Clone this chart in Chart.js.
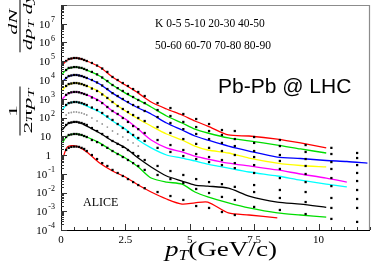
<!DOCTYPE html>
<html>
<head>
<meta charset="utf-8">
<script src="https://cdn.jsdelivr.net/npm/chart.js@4.4.1/dist/chart.umd.min.js"></script>
<style>
html, body { margin: 0; padding: 0; background: #fff; }
#chart { display: block; }
</style>
</head>
<body>
<canvas id="chart" width="374" height="271"></canvas>
<script>
// model curves, pT in GeV/c
let curvePt = [0.05, 0.25, 0.6, 1.0, 1.5, 2.0, 2.5, 3.0, 3.5, 4.1, 4.7, 5.2, 5.7, 6.5, 7.3, 8.4, 9.3, 10.3, 11.1, 11.9];

let red1    = [6.3e4, 1.17e5, 1.49e5, 1.03e5, 4.9e4, 1.45e4, 5.4e3, 2.0e3, 670, 284, 136, 65, 35, 11.7, 10.3, 7.1, 4.4, 2.4, null, null];
let green1  = [2.1e4, 3.9e4, 4.9e4, 3.4e4, 1.63e4, 5.4e3, 2.0e3, 860, 363, 120, 51, 24, 14.9, 8.1, 5.6, 3.4, 2.1, 1.28, null, null];
let blue    = [7.8e3, 1.45e4, 1.85e4, 1.28e4, 6.1e3, 2.0e3, 760, 321, 154, 51, 21.5, 10.3, 6.3, 3.0, 1.63, 0.78, 0.65, 0.51, 0.45, 0.37];
let yellow  = [2.9e3, 5.4e3, 6.9e3, 4.8e3, 2.3e3, 670, 222, 83, 35, 13.2, 6.3, 3.0, 1.85, 1.28, 0.69, 0.37, 0.275, 0.23, null, null];
let magenta = [970, 1.8e3, 2.3e3, 1.6e3, 760, 222, 83, 24, 6.3, 2.4, 1.45, 0.88, 0.61, 0.37, 0.26, 0.16, 0.097, 0.059, 0.036, null];
let cyan    = [251, 525, 670, 410, 196, 65, 24, 6.3, 2.4, 1.0, 0.69, 0.48, 0.33, 0.20, 0.124, 0.076, 0.046, 0.028, 0.020, null];
let black   = [21.5, 45, 58, 35, 14.9, 5.6, 2.4, 0.69, 0.23, 0.076, 0.041, 0.025, 0.022, 0.017, 0.0065, 0.0031, 0.0024, 0.0016, null, null];
let green2  = [4.4, 10.3, 13.2, 9.1, 4.4, 1.63, 0.69, 0.23, 0.059, 0.036, 0.028, 0.0106, 0.0058, 0.0028, 0.0015, 0.00081, 0.00063, 0.00049, null, null];
let red2    = [0.54, 2.7, 3.0, 1.45, 0.37, 0.14, 0.067, 0.025, 0.0106, 0.0045, 0.0024, 0.0028, 0.0031, 0.00081, 0.00063, 0.00044, null, null, null, null];

// ALICE data points
let dotPt = [0.2, 0.3, 0.4, 0.5, 0.6, 0.7, 0.8, 0.9, 1.0, 1.2, 1.4, 1.6, 1.8, 2.0, 2.2, 2.4, 2.6, 2.8, 3.0, 3.25, 3.75, 4.25, 4.75, 5.25, 5.75, 6.25, 6.75, 7.5, 8.5, 9.5, 10.5, 11.5];

let dRed1    = [1.03e5, 1.32e5, 1.40e5, 1.49e5, 1.49e5, 1.40e5, 1.32e5, 1.17e5, 1.03e5, 8.1e4, 5.9e4, 4.1e4, 2.7e4, 1.45e4, 1.0e4, 6.9e3, 4.8e3, 3.3e3, 2.3e3, 1.4e3, 590, 320, 154, 83, 45, 21.5, 19, 9.1, 6.3, 3.4, 2.4, 1.28];
let dGreen1  = [3.4e4, 4.4e4, 4.6e4, 4.9e4, 4.9e4, 4.6e4, 4.4e4, 3.9e4, 3.4e4, 2.7e4, 2.0e4, 1.36e4, 8.8e3, 5.4e3, 3.7e3, 2.6e3, 1.8e3, 1.24e3, 860, 590, 250, 120, 58, 31, 19, 11.7, 7.1, 4.4, 3.0, 1.45, 1.13, 0.69];
let dBlue    = [1.28e4, 1.63e4, 1.74e4, 1.85e4, 1.85e4, 1.74e4, 1.63e4, 1.45e4, 1.28e4, 1.0e4, 7.4e3, 5.1e3, 3.3e3, 2.0e3, 1.4e3, 970, 670, 464, 363, 222, 106, 51, 24, 13.2, 7.1, 4.4, 3.0, 1.63, 1.0, 0.61, 0.42, 0.29];
let dYellow  = [4.8e3, 6.1e3, 6.5e3, 6.9e3, 6.9e3, 6.5e3, 6.1e3, 5.4e3, 4.8e3, 3.5e3, 2.6e3, 1.7e3, 1.1e3, 670, 410, 284, 196, 136, 94, 65, 31, 14.9, 7.1, 3.9, 2.4, 1.63, 1.0, 0.78, 0.48, 0.26, 0.18, 0.11];
let dMagenta = [1.6e3, 2.0e3, 2.2e3, 2.3e3, 2.3e3, 2.2e3, 2.0e3, 1.8e3, 1.6e3, 1.17e3, 860, 590, 363, 222, 154, 94, 58, 35, 24, 14.9, 6.3, 3.4, 1.85, 1.13, 0.78, 0.54, 0.37, 0.29, 0.18, 0.097, 0.059, 0.041];
let dCyan    = [464, 590, 630, 670, 670, 630, 590, 525, 464, 340, 251, 174, 113, 74, 45, 27.5, 16.9, 11.7, 8.1, 5.6, 2.4, 1.45, 0.88, 0.61, 0.42, 0.29, 0.20, 0.11, 0.059, 0.036, 0.022, 0.0136];
let dBlack   = [40, 51, 54, 58, 58, 54, 51, 45, 40, 27.5, 19, 13.2, 9.1, 5.6, 3.9, 2.7, 1.85, 1.28, 0.88, 0.54, 0.26, 0.14, 0.086, 0.052, 0.036, 0.028, 0.020, 0.025, 0.0136, 0.0106, 0.0051, 0.0045];
let dGreen2  = [9.1, 11.7, 12.4, 13.2, 13.2, 12.4, 11.7, 10.3, 9.1, 6.3, 4.9, 3.4, 2.4, 1.63, 1.13, 0.78, 0.54, 0.37, 0.26, 0.16, 0.086, 0.052, 0.032, 0.0154, 0.0094, 0.0058, 0.0040, 0.0106, 0.0051, 0.0031, 0.0015, 0.0015];
let dRed2    = [1.85, 2.4, 2.7, 2.8, 2.8, 2.7, 2.4, 2.1, 1.63, 1.0, 0.61, 0.37, 0.26, 0.16, 0.11, 0.076, 0.052, 0.036, 0.025, 0.017, 0.0106, 0.0065, 0.0040, 0.0019, 0.0015, 0.00091, 0.00063, 0.0017, 0.00117, 0.00071, 0.00039, 0.00027];
let dGray    = [136, 174, 185, 196, 196, 185, 174, 154, 136, 94, 65, 45, 31, 19, 13.2, 9.1, 6.3, 4.4, 3.0];

let yDecades = [-4, -3, -2, -1, 0, 1, 2, 3, 4, 5, 6, 7];
let xTicks = [0, 2.5, 5, 7.5, 10];
let xTickLabels = ["0", "2.5", "5", "7.5", "10"];
let centRow1 = "K 0-5 5-10 20-30 40-50";
let centRow2 = "50-60 60-70 70-80 80-90";
let systemLabel = "Pb-Pb @ LHC";
let expLabel = "ALICE";

let curves = [red1, green1, blue, yellow, magenta, cyan, black, green2, red2];
let curveColors = ["#ff0000", "#00dd00", "#0000ff", "#ffff00", "#ff00ff", "#00ffff", "#000000", "#00dd00", "#ff0000"];
let dotSets = [dRed1, dGreen1, dBlue, dYellow, dMagenta, dCyan, dBlack, dGreen2, dRed2];

function toPoints(xs, ys) {
    let pts = [];
    for (let i = 0; i < ys.length; i++) {
        if (ys[i] !== null) pts.push({ x: xs[i], y: ys[i] });
    }
    return pts;
}

let datasets = [];
// dots first so they sit on top
dotSets.forEach(function (d) {
    datasets.push({
        data: toPoints(dotPt, d),
        showLine: false,
        pointStyle: "rect",
        pointRadius: 1.6,
        pointBackgroundColor: "#000",
        pointBorderWidth: 0
    });
});
datasets.push({
    data: toPoints(dotPt, dGray),
    showLine: false,
    pointStyle: "circle",
    pointRadius: 0.9,
    pointBackgroundColor: "#999",
    pointBorderWidth: 0
});
curves.forEach(function (c, i) {
    datasets.push({
        data: toPoints(curvePt, c),
        borderColor: curveColors[i],
        borderWidth: 1.3,
        pointRadius: 0,
        tension: 0.25,
        fill: false
    });
});

// text runs: [text, font, dy]
function runWidth(ctx, parts) {
    let w = 0;
    parts.forEach(function (p) { ctx.font = p[1]; w += ctx.measureText(p[0]).width; });
    return w;
}
function drawRun(ctx, parts, x, y) {
    let cx = x;
    parts.forEach(function (p) {
        ctx.font = p[1];
        ctx.fillText(p[0], cx, y + p[2]);
        cx += ctx.measureText(p[0]).width;
    });
}

const SERIF = '"Liberation Serif", "DejaVu Serif", serif';

let decor = {
    id: "decor",
    afterDatasetsDraw(chart) {
        let ctx = chart.ctx;
        let a = chart.chartArea;
        let xs = chart.scales.x, ys = chart.scales.y;
        ctx.save();

        // frame
        ctx.strokeStyle = "#8c8c8c";
        ctx.lineWidth = 1.2;
        ctx.beginPath();
        ctx.moveTo(a.left, a.top + 0.5);
        ctx.lineTo(a.right - 0.5, a.top + 0.5);
        ctx.lineTo(a.right - 0.5, a.bottom);
        ctx.stroke();
        ctx.strokeStyle = "#000";
        ctx.lineWidth = 1;
        ctx.beginPath();
        ctx.moveTo(a.left + 0.5, a.top);
        ctx.lineTo(a.left + 0.5, a.bottom + 0.5);
        ctx.lineTo(a.right, a.bottom + 0.5);
        ctx.stroke();

        // y ticks, inside
        ctx.strokeStyle = "#333";
        ctx.beginPath();
        for (let e = -4; e <= 8; e++) {
            let py = Math.round(ys.getPixelForValue(Math.pow(10, e))) + 0.5;
            ctx.moveTo(a.left, py); ctx.lineTo(a.left + 6, py);
            if (e < 8) {
                for (let k = 2; k <= 9; k++) {
                    let my = Math.round(ys.getPixelForValue(k * Math.pow(10, e))) + 0.5;
                    ctx.moveTo(a.left, my); ctx.lineTo(a.left + 3, my);
                }
            }
        }
        // x ticks, inside
        for (let v = 0; v <= 12; v += 0.5) {
            let px = Math.round(xs.getPixelForValue(v)) + 0.5;
            let len = (v % 2.5 === 0) ? 6 : 3;
            ctx.moveTo(px, a.bottom); ctx.lineTo(px, a.bottom - len);
        }
        ctx.stroke();

        // y labels
        ctx.fillStyle = "#000";
        ctx.textBaseline = "middle";
        ctx.textAlign = "left";
        yDecades.forEach(function (e) {
            let py = ys.getPixelForValue(Math.pow(10, e)) + 1;
            ctx.font = "11px " + SERIF;
            if (e === 0 || e === 1) {
                let t = e === 0 ? "1" : "10";
                let w = ctx.measureText(t).width;
                ctx.fillText(t, 51 - w, py);
            } else {
                let w1 = ctx.measureText("10").width;
                ctx.font = "8px " + SERIF;
                let w2 = ctx.measureText(String(e)).width;
                let x0 = 55 - w1 - w2 - 1;
                ctx.font = "11px " + SERIF;
                ctx.fillText("10", x0, py);
                ctx.font = "8px " + SERIF;
                ctx.fillText(String(e), x0 + w1 + 1, py - 5);
            }
        });

        // x labels
        ctx.textAlign = "center";
        ctx.font = "11px " + SERIF;
        xTicks.forEach(function (v, i) {
            ctx.fillText(xTickLabels[i], xs.getPixelForValue(v), 240);
        });

        // x title p_T(GeV/c)
        ctx.textAlign = "left";
        ctx.textBaseline = "alphabetic";
        let xt = [["p", "italic 22px " + SERIF, 0], ["T", "italic 14px " + SERIF, 4], ["(GeV/c)", "22px " + SERIF, 0]];
        let xw = runWidth(ctx, xt);
        ctx.save();
        ctx.translate(165, 256);
        ctx.scale(112 / xw, 1);
        drawRun(ctx, xt, 0, 0);
        ctx.restore();

        // y title, two rotated fractions
        let fr = function (cx, cy, num, den) {
            ctx.save();
            ctx.translate(cx, cy);
            ctx.rotate(-Math.PI / 2);
            ctx.scale(1, 0.55);
            let wn = runWidth(ctx, num), wd = runWidth(ctx, den);
            let bar = Math.max(wn, wd) + 4;
            ctx.fillRect(-bar / 2, -0.9, bar, 1.8);
            drawRun(ctx, num, -wn / 2, -5);
            drawRun(ctx, den, -wd / 2, 21);
            ctx.restore();
        };
        fr(20, 111, [["1", "24px " + SERIF, 0]],
            [["2\u03c0", "24px " + SERIF, 0], ["p", "italic 24px " + SERIF, 0], ["T", "italic 16px " + SERIF, 5]]);
        fr(20, 22, [["dN", "italic 22px " + SERIF, 0]],
            [["dp", "italic 22px " + SERIF, 0], ["T", "italic 15px " + SERIF, 5], [" dy", "italic 22px " + SERIF, 0]]);

        // annotations
        ctx.textBaseline = "middle";
        ctx.font = "11.5px " + SERIF;
        ctx.fillText(centRow1, 155, 24);
        ctx.fillText(centRow2, 155, 46);
        ctx.textBaseline = "alphabetic";
        ctx.font = '21px "Liberation Sans", Arial, sans-serif';
        ctx.fillText(systemLabel, 218, 93);
        ctx.font = "12px " + SERIF;
        ctx.fillText(expLabel, 83, 206);

        ctx.restore();
    }
};

let chartview = new Chart(document.getElementById("chart").getContext("2d"), {
    type: "line",
    data: { datasets: datasets },
    options: {
        responsive: false,
        animation: false,
        layout: { padding: { top: 5, right: 3, left: 0, bottom: 0 } },
        plugins: { legend: { display: false }, tooltip: { enabled: false } },
        scales: {
            x: {
                type: "linear", min: 0, max: 12,
                grid: { display: false }, border: { display: false },
                ticks: { display: false },
                afterFit: function (s) { s.height = 41; }
            },
            y: {
                type: "logarithmic", min: 1e-4, max: 1e8,
                grid: { display: false }, border: { display: false },
                ticks: { display: false },
                afterFit: function (s) { s.width = 61; }
            }
        }
    },
    plugins: [decor]
});
</script>
</body>
</html>
